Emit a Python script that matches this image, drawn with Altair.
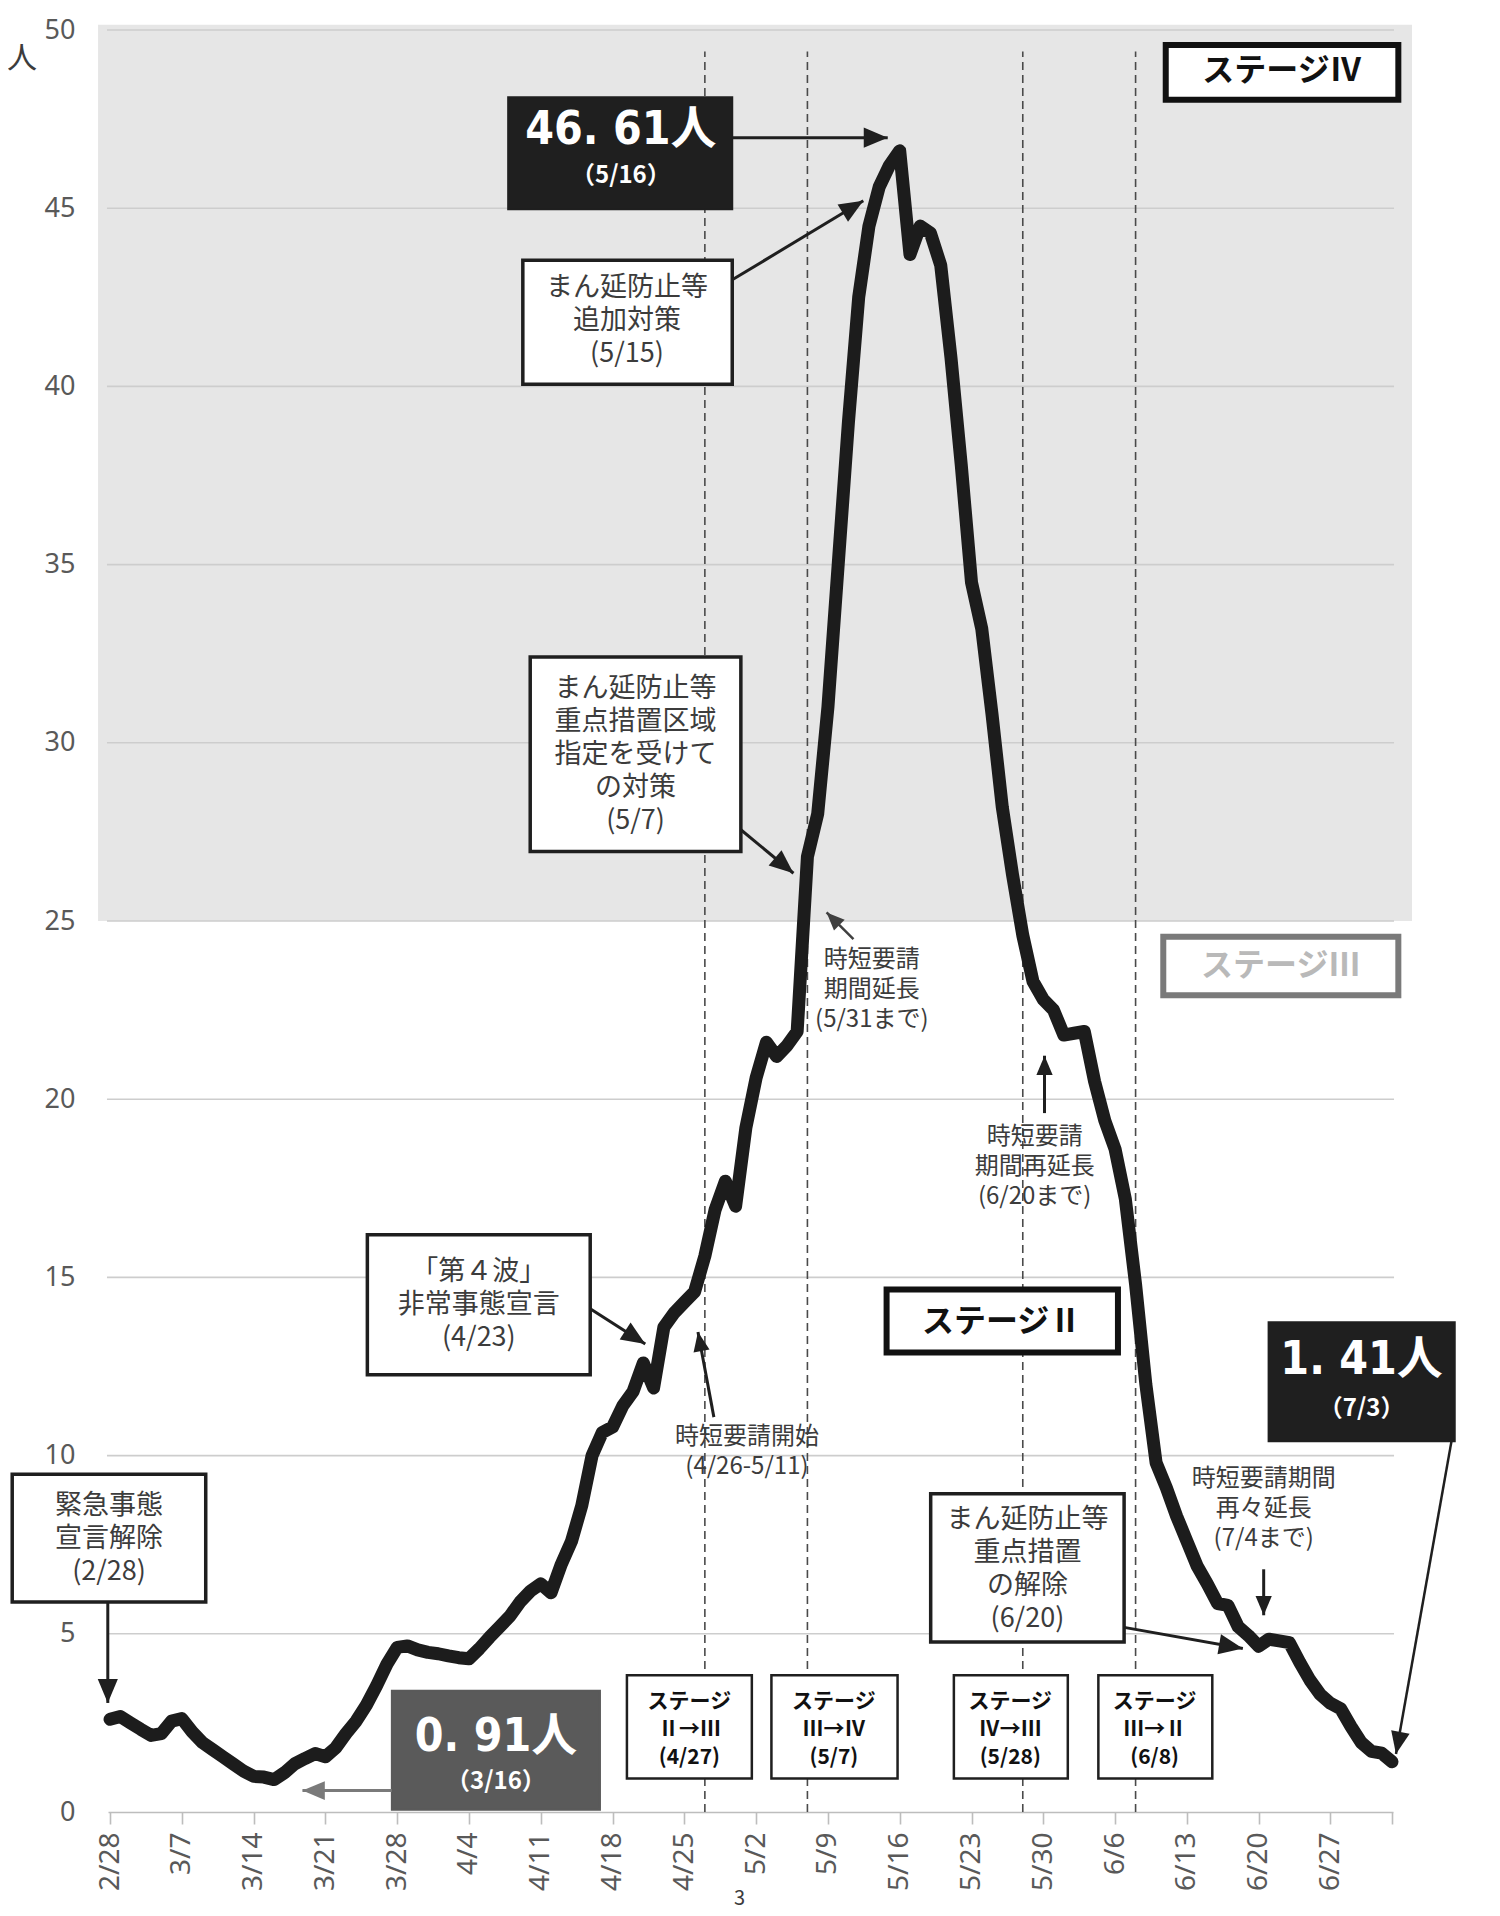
import json
import altair as alt
import pandas as pd

# ---------------- data ----------------
values = [
    2.60, 2.68, 2.50, 2.32, 2.15, 2.20, 2.55, 2.62, 2.25, 1.95,
    1.75, 1.55, 1.35, 1.15, 1.00, 0.98, 0.91, 1.10, 1.35, 1.50,
    1.64, 1.55, 1.80, 2.20, 2.55, 3.00, 3.55, 4.15, 4.62, 4.66,
    4.55, 4.48, 4.44, 4.38, 4.33, 4.30, 4.58, 4.90, 5.20, 5.50,
    5.90, 6.20, 6.40, 6.15, 6.95, 7.60, 8.60, 10.00, 10.65, 10.80,
    11.40, 11.80, 12.60, 11.90, 13.60, 14.00, 14.30, 14.60, 15.60, 16.90,
    17.70, 17.00, 19.20, 20.60, 21.60, 21.20, 21.50, 21.90, 26.80, 28.00,
    31.00, 35.00, 39.00, 42.50, 44.50, 45.60, 46.20, 46.61, 43.70, 44.50,
    44.30, 43.40, 40.80, 37.80, 34.50, 33.20, 30.80, 28.20, 26.30, 24.60,
    23.30, 22.80, 22.50, 21.80, 21.85, 21.90, 20.50, 19.40, 18.60, 17.20,
    14.80, 12.00, 9.80, 9.10, 8.30, 7.60, 6.90, 6.40, 5.85, 5.80,
    5.20, 4.95, 4.65, 4.85, 4.80, 4.75, 4.20, 3.70, 3.30, 3.05,
    2.90, 2.40, 1.95, 1.70, 1.65, 1.41,
]
days = list(range(len(values)))  # day 0 = 2/28 ... day 125 = 7/3

tick_labels = ['2/28', '3/7', '3/14', '3/21', '3/28', '4/4', '4/11', '4/18', '4/25',
               '5/2', '5/9', '5/16', '5/23', '5/30', '6/6', '6/13', '6/20', '6/27']
tick_days = [7 * i for i in range(len(tick_labels))] + [125]
y_ticks = list(range(0, 51, 5))
stage_change_days = [58, 68, 89, 100]  # 4/27, 5/7, 5/28, 6/8

# ---------------- scales & axes ----------------
xs = alt.Scale(domain=[-0.2, 125.1], nice=False, zero=False)
ys = alt.Scale(domain=[0, 50], nice=False, zero=False)
JP = 'Noto Sans CJK JP'
NUM = 'Liberation Sans Narrow, DejaVu Sans Condensed, Noto Sans CJK JP'

label_expr = "datum.value >= 125 ? '' : " + json.dumps(tick_labels) + "[round(datum.value / 7)]"
x_axis = alt.Axis(
    values=tick_days, labelExpr=label_expr, labelAngle=270, title=None, grid=False,
    domainColor='#bdbdbd', domainWidth=1.6, tickColor='#bdbdbd', tickWidth=1.6, tickSize=12,
    labelFont='Noto Sans', labelFontSize=28, labelColor='#595959', labelPadding=8,
    labelFlush=False, labelOverlap=False, labelBound=False)
y_axis = alt.Axis(
    values=y_ticks, title=None, grid=False, domain=False, ticks=False,
    labelFont='Noto Sans', labelFontSize=27, labelColor='#595959', labelPadding=33,
    labelFlush=False, labelOverlap=False)


def X(f='x'):
    return alt.X(f'{f}:Q', scale=xs, axis=x_axis, title=None)


def Y(f='y'):
    return alt.Y(f'{f}:Q', scale=ys, axis=y_axis, title=None)


# background (stage IV zone)
bg = alt.Chart(pd.DataFrame({'x': [-1.17], 'x2': [126.95], 'y': [25], 'y2': [50.15]})).mark_rect(
    color='#e6e6e6', clip=False).encode(x=X(), x2='x2:Q', y=Y(), y2='y2:Q')

grid = alt.Chart(pd.DataFrame({'y': y_ticks[1:], 'x': -0.3, 'x2': 125.2})).mark_rule(
    color='#cdcdcd', strokeWidth=1.6, clip=False).encode(x=X(), x2='x2:Q', y=Y())

dashed = alt.Chart(pd.DataFrame({'x': stage_change_days, 'y': 0, 'y2': 49.4})).mark_rule(
    color='#4a4a4a', strokeWidth=1.6, strokeDash=[8, 5]).encode(x=X(), y=Y(), y2='y2:Q')

line = alt.Chart(pd.DataFrame({'x': days, 'y': values})).mark_line(
    color='#1c1c1c', strokeWidth=13, strokeJoin='round', strokeCap='round').encode(x=X(), y=Y())

# ---------------- annotation boxes ----------------
boxes_df = pd.DataFrame([
    # x, x2, y, y2, fill, stroke, sw
    (38.82, 60.67, 48.11, 44.97, '#1f1f1f', '#1f1f1f', 2),      # 46.61
    (40.25, 60.67, 43.54, 40.06, '#ffffff', '#1f1f1f', 3.5),    # 追加対策
    (102.94, 125.62, 49.58, 48.04, '#ffffff', '#111111', 6),    # ステージIV
    (102.70, 125.62, 24.56, 22.92, '#ffffff', '#7a7a7a', 6),    # ステージIII
    (40.97, 61.51, 32.41, 26.95, '#ffffff', '#1f1f1f', 3.5),    # 5/7
    (75.72, 98.28, 14.66, 12.89, '#ffffff', '#111111', 6),      # ステージII
    (25.09, 46.82, 16.20, 12.27, '#ffffff', '#1f1f1f', 3.5),    # 第4波
    (-9.54, 9.33, 9.48, 5.89, '#ffffff', '#1f1f1f', 3.5),       # 緊急事態
    (27.48, 47.77, 3.40, 0.06, '#5a5a5a', '#5a5a5a', 2),        # 0.91
    (50.40, 62.58, 3.84, 0.94, '#ffffff', '#1f1f1f', 2.5),
    (64.49, 76.79, 3.84, 0.94, '#ffffff', '#1f1f1f', 2.5),
    (82.28, 93.39, 3.84, 0.94, '#ffffff', '#1f1f1f', 2.5),
    (96.37, 107.48, 3.84, 0.94, '#ffffff', '#1f1f1f', 2.5),
    (80.02, 98.88, 8.93, 4.77, '#ffffff', '#1f1f1f', 3.5),      # 解除
    (112.97, 131.12, 13.74, 10.40, '#1f1f1f', '#1f1f1f', 2),    # 1.41
], columns=['x', 'x2', 'y', 'y2', 'fill', 'stroke', 'sw'])

boxes = alt.Chart(boxes_df).mark_rect(clip=False).encode(
    x=X(), x2='x2:Q', y=Y(), y2='y2:Q',
    fill=alt.Fill('fill:N', scale=None), stroke=alt.Stroke('stroke:N', scale=None),
    strokeWidth=alt.StrokeWidth('sw:Q', scale=None))

# ---------------- texts (multi-line, y = first line) ----------------
box_text_df = pd.DataFrame([
    (50.40, 42.75, 'まん延防止等\n追加対策\n(5/15)'),
    (51.24, 31.52, 'まん延防止等\n重点措置区域\n指定を受けて\nの対策\n(5/7)'),
    (35.96, 15.14, '「第４波」\n非常事態宣言\n(4/23)'),
    (-0.10, 8.59, '緊急事態\n宣言解除\n(2/28)'),
    (89.45, 8.18, 'まん延防止等\n重点措置\nの解除\n(6/20)'),
], columns=['x', 'y', 't'])

free_text_df = pd.DataFrame([
    (74.28, 23.91, '時短要請\n期間延長\n(5/31まで)'),
    (90.16, 18.93, '時短要請\n期間再延長\n(6/20まで)'),
    (62.10, 10.53, '時短要請開始\n(4/26-5/11)'),
    (112.49, 9.34, '時短要請期間\n再々延長\n(7/4まで)'),
], columns=['x', 'y', 't'])

misc_text_df = pd.DataFrame([(-8.58, 49.20, '人', 30), (61.39, -2.45, '3', 20)], columns=['x', 'y', 't', 's'])

stage_big_df = pd.DataFrame([
    (114.28, 48.86, 'ステージⅣ', '#111111'),
    (114.16, 23.74, 'ステージⅢ', '#b9b9b9'),
    (86.94, 13.74, 'ステージⅡ', '#111111'),
], columns=['x', 'y', 't', 'c'])

stage_small_df = pd.DataFrame([
    (56.49, 3.09, 'ステージ\nⅡ→Ⅲ\n(4/27)'),
    (70.58, 3.09, 'ステージ\nⅢ→Ⅳ\n(5/7)'),
    (87.78, 3.09, 'ステージ\nⅣ→Ⅲ\n(5/28)'),
    (101.86, 3.09, 'ステージ\nⅢ→Ⅱ\n(6/8)'),
], columns=['x', 'y', 't'])

big_df = pd.DataFrame([(49.81, 47.19, '46. 61人'), (37.63, 2.10, '0. 91人'), (122.04, 12.68, '1. 41人')],
                      columns=['x', 'y', 't'])
date_df = pd.DataFrame([(49.81, 45.89, '（5/16）'), (37.63, 0.84, '（3/16）'), (122.04, 11.32, '（7/3）')],
                       columns=['x', 'y', 't'])

TXT = '#3c3c3c'
box_text = alt.Chart(box_text_df).mark_text(
    font=JP, fontSize=27, lineHeight=33, lineBreak='\n', color=TXT, align='center', baseline='middle',
    clip=False).encode(x=X(), y=Y(), text='t:N')
free_text = alt.Chart(free_text_df).mark_text(
    font=JP, fontSize=24, lineHeight=30, lineBreak='\n', color=TXT, align='center', baseline='middle',
    clip=False).encode(x=X(), y=Y(), text='t:N')
misc_text = alt.Chart(misc_text_df).mark_text(
    font=JP, color=TXT, align='center', baseline='middle', clip=False).encode(
    x=X(), y=Y(), text='t:N', size=alt.Size('s:Q', scale=None))
stage_big = alt.Chart(stage_big_df).mark_text(
    font=JP, fontWeight='bold', fontSize=32, align='center', baseline='middle').encode(
    x=X(), y=Y(), text='t:N', color=alt.Color('c:N', scale=None))
stage_small = alt.Chart(stage_small_df).mark_text(
    font=JP, fontWeight='bold', fontSize=21, lineHeight=28, lineBreak='\n', color='#111111',
    align='center', baseline='middle').encode(x=X(), y=Y(), text='t:N')
big_text = alt.Chart(big_df).mark_text(
    font=NUM, fontWeight='bold', fontSize=46, color='#ffffff', align='center', baseline='middle',
    clip=False).encode(x=X(), y=Y(), text='t:N')
date_text = alt.Chart(date_df).mark_text(
    font=JP, fontWeight='bold', fontSize=24, color='#ffffff', align='center', baseline='middle',
    clip=False).encode(x=X(), y=Y(), text='t:N')

# ---------------- arrows ----------------
arrows_df = pd.DataFrame([
    # x, y, x2, y2 (tip), angle, color, width, head size
    (60.67, 46.98, 75.83, 46.98, 90, '#1f1f1f', 3, 2300),
    (60.67, 42.99, 73.45, 45.21, 58.7, '#1f1f1f', 3, 2300),
    (61.51, 27.56, 66.64, 26.34, 129.9, '#1f1f1f', 3, 2300),
    (72.49, 24.49, 69.87, 25.24, 315, '#404040', 2.5, 1300),
    (91.12, 19.61, 91.12, 21.22, 0, '#1f1f1f', 3, 1500),
    (46.82, 14.12, 52.19, 13.13, 122.8, '#1f1f1f', 3, 2300),
    (58.88, 11.08, 57.33, 13.47, 349.5, '#1f1f1f', 3, 1500),
    (-0.22, 5.89, -0.22, 3.06, 180, '#1f1f1f', 3, 2300),
    (27.48, 0.60, 18.76, 0.60, 270, '#7a7a7a', 3, 2000),
    (98.88, 5.18, 110.46, 4.59, 99.9, '#1f1f1f', 3, 2300),
    (112.49, 6.81, 112.49, 5.52, 180, '#1f1f1f', 3, 1500),
    (130.8, 10.40, 125.39, 1.63, 191.4, '#1f1f1f', 2.5, 2000),
], columns=['x', 'y', 'x2', 'y2', 'angle', 'c', 'w', 'hs'])

arrow_lines = alt.Chart(arrows_df).mark_rule(clip=False, strokeCap='butt').encode(
    x=X(), y=Y(), x2='x2:Q', y2='y2:Q', color=alt.Color('c:N', scale=None),
    strokeWidth=alt.StrokeWidth('w:Q', scale=None))
arrow_heads = alt.Chart(arrows_df).mark_point(
    shape='M0,0L-0.42,1L0.42,1Z', filled=True, opacity=1, clip=False).encode(
    x=X('x2'), y=Y('y2'), angle=alt.Angle('angle:Q', scale=None), color=alt.Color('c:N', scale=None),
    size=alt.Size('hs:Q', scale=None))

chart = alt.layer(
    bg, grid, dashed, line, boxes, box_text, free_text, misc_text, stage_big, stage_small,
    big_text, date_text, arrow_lines, arrow_heads
).properties(
    width=1285, height=1782,
    padding={'left': 100, 'top': 22, 'right': 99, 'bottom': 104},
    autosize=alt.AutoSizeParams(type='none'),
    background='#ffffff',
).configure_view(stroke=None)

chart.save('out.html', embed_options={'renderer': 'svg', 'actions': False})
